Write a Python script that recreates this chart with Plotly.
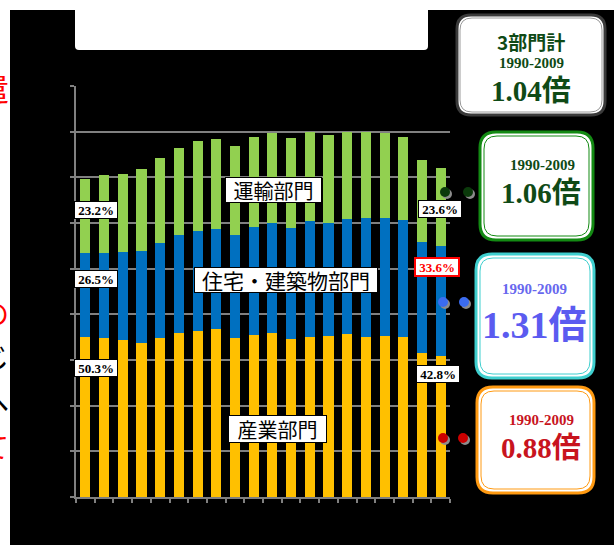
import plotly.graph_objects as go

# CO2 emissions by sector, 1990-2009 (stacked)
years = [str(y) for y in range(1990, 2010)]
sector_names = ["産業部門", "住宅・建築物部門", "運輸部門"]
industry = [349.9, 347.5, 343.8, 337.9, 348.8, 358.4, 364.1, 368.5, 347.5, 355.2,
            358.4, 346.0, 351.0, 352.5, 356.3, 351.0, 352.5, 349.7, 316.0, 308.4]
buildings = [184.3, 186.8, 192.0, 200.8, 206.7, 215.9, 218.3, 219.0, 226.8, 236.7,
             240.9, 243.0, 254.0, 246.8, 251.8, 259.3, 259.0, 256.8, 243.0, 242.0]
transport = [161.4, 170.8, 172.1, 178.9, 186.1, 189.8, 196.4, 196.4, 194.9, 197.1,
             197.1, 197.7, 193.6, 193.3, 191.8, 188.3, 184.8, 182.4, 178.2, 170.4]
period_label = "1990-2009"

W, H = 614, 545
L, R, T, B = 76, 164, 86, 48


def px(x):
    return (x - L) / (W - L - R)


def py(y):
    return (H - B - y) / (H - T - B)


fig = go.Figure()
for vals, name, color in [(industry, sector_names[0], "#FFC000"),
                          (buildings, sector_names[1], "#0070C0"),
                          (transport, sector_names[2], "#92D050")]:
    fig.add_trace(go.Bar(x=years, y=vals, name=name, marker_color=color,
                         marker_line_width=0, showlegend=False))

shapes = []
annotations = []


def rect(x0, y0, x1, y1, fill, layer="above"):
    shapes.append(dict(type="rect", xref="paper", yref="paper",
                       x0=px(x0), x1=px(x1), y0=py(y1), y1=py(y0),
                       fillcolor=fill, layer=layer, line=dict(width=0)))


def round_box(x0, y0, x1, y1, r, color, width, fill="rgba(0,0,0,0)"):
    pts = [
        f"M {px(x0 + r)},{py(y0)}",
        f"L {px(x1 - r)},{py(y0)}",
        f"Q {px(x1)},{py(y0)} {px(x1)},{py(y0 + r)}",
        f"L {px(x1)},{py(y1 - r)}",
        f"Q {px(x1)},{py(y1)} {px(x1 - r)},{py(y1)}",
        f"L {px(x0 + r)},{py(y1)}",
        f"Q {px(x0)},{py(y1)} {px(x0)},{py(y1 - r)}",
        f"L {px(x0)},{py(y0 + r)}",
        f"Q {px(x0)},{py(y0)} {px(x0 + r)},{py(y0)}",
        "Z",
    ]
    shapes.append(dict(type="path", xref="paper", yref="paper", path=" ".join(pts),
                       fillcolor=fill, line=dict(color=color, width=width)))


def dot(cx, cy, color, rad=5):
    shapes.append(dict(type="circle", xref="paper", yref="paper",
                       x0=px(cx - rad + 2), x1=px(cx + rad + 2),
                       y0=py(cy + rad + 2), y1=py(cy - rad + 2),
                       fillcolor="#8c8c8c", line=dict(width=0)))
    shapes.append(dict(type="circle", xref="paper", yref="paper",
                       x0=px(cx - rad), x1=px(cx + rad),
                       y0=py(cy + rad), y1=py(cy - rad),
                       fillcolor=color, line=dict(width=0)))


def text(cx, cy, s, size, color="black", family="Liberation Serif, Noto Sans CJK JP",
         bg=None, border=None, bw=0, w=None, h=None, xanchor="center"):
    a = dict(xref="paper", yref="paper", x=px(cx), y=py(cy), text=s,
             showarrow=False, xanchor=xanchor, yanchor="middle",
             font=dict(size=size, color=color, family=family))
    if bg:
        a.update(bgcolor=bg, bordercolor=border or bg, borderwidth=bw, borderpad=1)
    if w:
        a["width"] = w
    if h:
        a["height"] = h
    annotations.append(a)


# page frame: white margins top/left and title panel
rect(0, 0, 10, H, "white", layer="below")
rect(0, 0, W, 10, "white", layer="below")
round_box(75, 4, 428, 50, 4, "white", 0, fill="white")

# fragments of body text running off the left edge
for ch, y, col, sz in [("遣", 87, "#ff0000", 32), ("の", 313, "#ff0000", 28),
                       ("じ", 356, "black", 28), ("へ", 400, "black", 28),
                       ("て", 446, "#ff0000", 28), ("、", 494, "#ff0000", 28)]:
    text(11, y, ch, sz, color=col, family="Noto Sans CJK JP", xanchor="right")

# share labels for first and last year
tot0 = industry[0] + buildings[0] + transport[0]
tot1 = industry[-1] + buildings[-1] + transport[-1]
pct_font = "Liberation Serif"
for cx, cy, v, tot, col in [
    (96, 210, transport[0], tot0, "black"),
    (96, 279, buildings[0], tot0, "black"),
    (96, 368, industry[0], tot0, "black"),
    (440, 209, transport[-1], tot1, "black"),
    (437, 267, buildings[-1], tot1, "#ff0000"),
    (438, 374, industry[-1], tot1, "black"),
]:
    text(cx, cy, f"<b>{100 * v / tot:.1f}%</b>", 13, color=col, family=pct_font,
         bg="white", border=col, bw=2 if col != "black" else 1, w=40, h=14)

# sector names on the bars
text(273.5, 190, sector_names[2], 20, family="Noto Sans CJK JP",
     bg="white", border="black", bw=1, w=93, h=22)
text(286, 280, sector_names[1], 21, family="Noto Sans CJK JP",
     bg="white", border="black", bw=1, w=180, h=22)
text(277.5, 429, sector_names[0], 20, family="Noto Sans CJK JP",
     bg="white", border="black", bw=1, w=95, h=24)

# growth ratio panels
ratio_tot = tot1 / tot0
ratio_tr = transport[-1] / transport[0]
ratio_bu = buildings[-1] / buildings[0]
ratio_in = industry[-1] / industry[0]

dark_green = "#0f4a16"

# total
round_box(457, 15, 605, 115, 14, "#3a3a3a", 3, fill="white")
round_box(460, 18, 602, 112, 12, "#9a9a9a", 1)
text(531, 42, "<b>3部門計</b>", 19, color=dark_green, family="Noto Sans CJK JP")
text(531, 63, f"<b>{period_label}</b>", 15, color=dark_green)
text(531, 91, f"<b>{ratio_tot:.2f}倍</b>", 29, color=dark_green)

# transport
round_box(480, 132, 593, 240, 16, "#138a13", 3, fill="white")
round_box(484, 136, 589, 236, 13, "#138a13", 1)
text(542, 165, f"<b>{period_label}</b>", 15, color=dark_green)
text(541, 193, f"<b>{ratio_tr:.2f}倍</b>", 29, color=dark_green)

# buildings
round_box(476, 254, 594, 378, 16, "#3fcfcf", 3, fill="white")
round_box(480, 258, 590, 374, 13, "#3fcfcf", 1)
text(534, 289, f"<b>{period_label}</b>", 15, color="#6868ee")
text(534, 325, f"<b>{ratio_bu:.2f}倍</b>", 38, color="#5b5bf0")

# industry
round_box(477, 387, 594, 493, 16, "#ff9a12", 3, fill="white")
round_box(481, 391, 590, 489, 13, "#ff9a12", 1)
text(541, 420, f"<b>{period_label}</b>", 15, color="#c8141e")
text(541, 448, f"<b>{ratio_in:.2f}倍</b>", 29, color="#c8141e")

# connector dots
dot(445, 192, "#0b3a0b")
dot(468, 192, "#0b3a0b")
dot(443, 302, "#3b6cf0")
dot(464, 302, "#3b6cf0")
dot(443, 438, "#cc0000")
dot(463, 438, "#cc0000")

grid = "#808080"
fig.update_layout(
    width=W, height=H,
    margin=dict(l=L, r=R, t=T, b=B, pad=0),
    paper_bgcolor="black", plot_bgcolor="black",
    barmode="stack", bargap=0.46,
    showlegend=False,
    shapes=shapes, annotations=annotations,
    xaxis=dict(type="category", range=[-0.5, 19.5], showgrid=False,
               showline=True, linecolor=grid, linewidth=2,
               ticks="outside", tickson="boundaries", ticklen=4,
               tickcolor=grid, tickwidth=1.5, showticklabels=False),
    yaxis=dict(range=[0, 900], tick0=0, dtick=100, showgrid=True,
               gridcolor=grid, gridwidth=2, zeroline=False,
               showline=True, linecolor=grid, linewidth=2,
               ticks="outside", ticklen=4, tickcolor=grid, tickwidth=1.5,
               showticklabels=False),
)

fig.write_html("out.html")
